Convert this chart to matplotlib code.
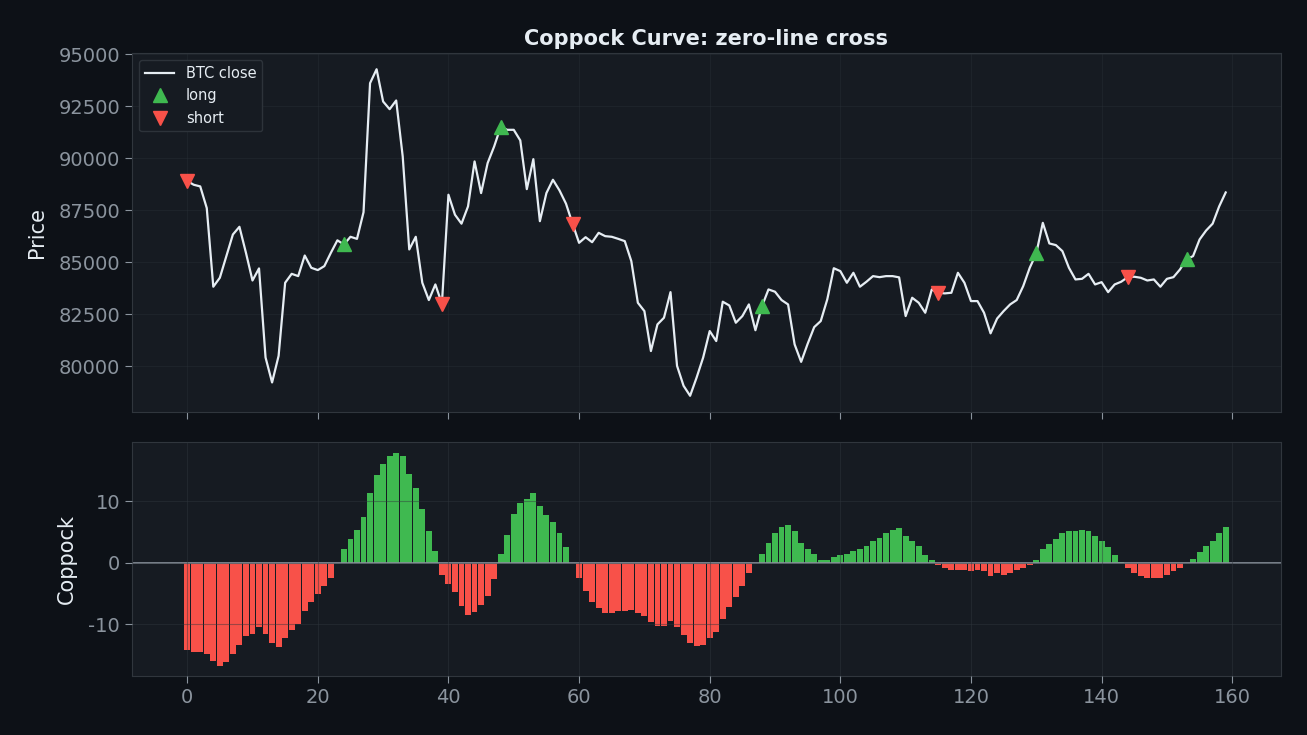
import numpy as np
import matplotlib
matplotlib.use("Agg")
import matplotlib.pyplot as plt

BG = "#0d1117"
PANEL = "#161b22"
EDGE = "#30363d"
TXT = "#e6edf3"
MUTED = "#8b949e"
GREEN = "#3fb950"
RED = "#f85149"

# BTC close (index 0..159)
close = [
    88900, 88720, 88640, 87600, 83820, 84250, 85290, 86330, 86700, 85450,
    84120, 84700, 80420, 79220, 80500, 84010, 84440, 84330, 85320, 84730,
    84620, 84810, 85450, 86050, 85850, 86220, 86120, 87400, 93600, 94270,
    92720, 92350, 92770, 90080, 85610, 86220, 84010, 83180, 83930, 83000,
    88240, 87280, 86850, 87680, 89840, 88320, 89760, 90560, 91500, 91360,
    91360, 90850, 88510, 89950, 86970, 88320, 88960, 88450, 87810, 86850,
    85930, 86200, 85960, 86410, 86250, 86220, 86120, 86010, 85050, 83050,
    82650, 80730, 82010, 82330, 83560, 80020, 79060, 78580, 79460, 80420,
    81690, 81210, 83100, 82920, 82090, 82410, 82970, 81730, 82880, 83690,
    83580, 83180, 82970, 81050, 80210, 81080, 81880, 82170, 83210, 84710,
    84570, 84010, 84490, 83820, 84060, 84330, 84280, 84330, 84330, 84270,
    82410, 83290, 83050, 82570, 83690, 83530, 83500, 83530, 84490, 84010,
    83130, 83130, 82570, 81580, 82290, 82650, 82970, 83180, 83850, 84730,
    85420, 86890, 85900, 85820, 85530, 84730, 84170, 84200, 84440, 83930,
    84040, 83560, 83930, 84060, 84280, 84300, 84250, 84120, 84170, 83820,
    84200, 84280, 84650, 85150, 85290, 86090, 86520, 86850, 87680, 88350,
]

# Coppock curve values
coppock = [
    -14.1, -14.5, -14.5, -14.9, -16.0, -16.7, -16.2, -14.9, -13.3, -11.9,
    -11.5, -10.5, -11.5, -13.1, -13.7, -12.3, -11.0, -10.0, -7.9, -6.4,
    -5.1, -3.8, -2.5, -0.05, 2.2, 3.8, 5.4, 7.4, 11.4, 14.2,
    16.0, 17.3, 17.9, 17.3, 14.5, 12.1, 8.7, 5.1, 2.0, -2.0,
    -3.5, -4.8, -7.0, -8.5, -8.0, -6.9, -5.4, -2.7, 1.4, 4.6,
    8.0, 9.8, 10.3, 11.3, 9.3, 7.7, 6.6, 4.9, 2.5, -0.05,
    -2.5, -4.5, -6.4, -7.3, -8.1, -8.1, -7.8, -7.9, -7.6, -8.1,
    -8.7, -9.7, -10.2, -10.2, -9.5, -10.5, -11.8, -13.0, -13.6, -13.4,
    -12.3, -11.3, -9.2, -7.1, -5.5, -3.8, -1.6, -0.05, 1.4, 3.3,
    4.9, 5.9, 6.2, 5.1, 3.3, 2.3, 1.4, 0.4, 0.5, 1.0,
    1.2, 1.5, 2.0, 2.2, 2.8, 3.6, 4.1, 4.9, 5.4, 5.6,
    4.3, 3.5, 2.7, 1.2, 0.4, -0.3, -0.9, -1.2, -1.1, -1.1,
    -1.4, -1.2, -1.4, -2.1, -1.7, -1.9, -1.7, -1.2, -0.9, -0.4,
    0.5, 2.2, 3.0, 3.8, 4.8, 5.1, 5.1, 5.3, 5.1, 4.4,
    3.6, 2.5, 1.2, 0.2, -0.8, -1.7, -2.1, -2.4, -2.4, -2.4,
    -1.9, -1.4, -0.8, 0.05, 0.7, 1.7, 2.7, 3.6, 4.8, 5.9,
]

long_idx = [24, 48, 88, 130, 153]
short_idx = [0, 39, 59, 115, 144]

plt.rcParams["axes.unicode_minus"] = False

x = np.arange(len(close))
close = np.array(close)
coppock = np.array(coppock)

fig, (ax1, ax2) = plt.subplots(
    2, 1, figsize=(13.07, 7.35), dpi=100, sharex=True,
    gridspec_kw={"height_ratios": [359, 234]},
)
fig.patch.set_facecolor(BG)
fig.subplots_adjust(left=0.101, right=0.980, top=0.928, bottom=0.080, hspace=0.101)

for ax in (ax1, ax2):
    ax.set_facecolor(PANEL)
    for s in ax.spines.values():
        s.set_color(EDGE)
    ax.tick_params(colors=MUTED, labelsize=14, length=5)
ax1.grid(True, color=EDGE, alpha=0.3, lw=0.8)
ax2.grid(True, color=EDGE, alpha=0.45, lw=0.8)

# ── price panel ──
ax1.plot(x, close, color=TXT, lw=1.6, label="BTC close")
ax1.plot(long_idx, close[long_idx], "^", color=GREEN, ms=9.5, ls="none", label="long")
ax1.plot(short_idx, close[short_idx], "v", color=RED, ms=9.5, ls="none", label="short")
ax1.set_yticks(np.arange(80000, 95001, 2500))
ax1.set_ylabel("Price", color=TXT, fontsize=15, labelpad=8)
ax1.set_title("Coppock Curve: zero-line cross", color=TXT, fontsize=15,
              fontweight="bold")
leg = ax1.legend(loc="upper left", fontsize=10.5, facecolor=PANEL, edgecolor=EDGE,
                 framealpha=0.9)
for t in leg.get_texts():
    t.set_color(TXT)

# ── coppock panel ──
colors = [GREEN if v > 0 else RED for v in coppock]
ax2.bar(x, coppock, width=0.9, color=colors)
ax2.set_axisbelow(False)
ax2.axhline(0, color=MUTED, lw=1.2)
ax2.set_yticks([-10, 0, 10])
ax2.set_ylabel("Coppock", color=TXT, fontsize=15, labelpad=8)
ax2.set_xticks(np.arange(0, 161, 20))

plt.savefig("out.png", dpi=100, facecolor=BG)
